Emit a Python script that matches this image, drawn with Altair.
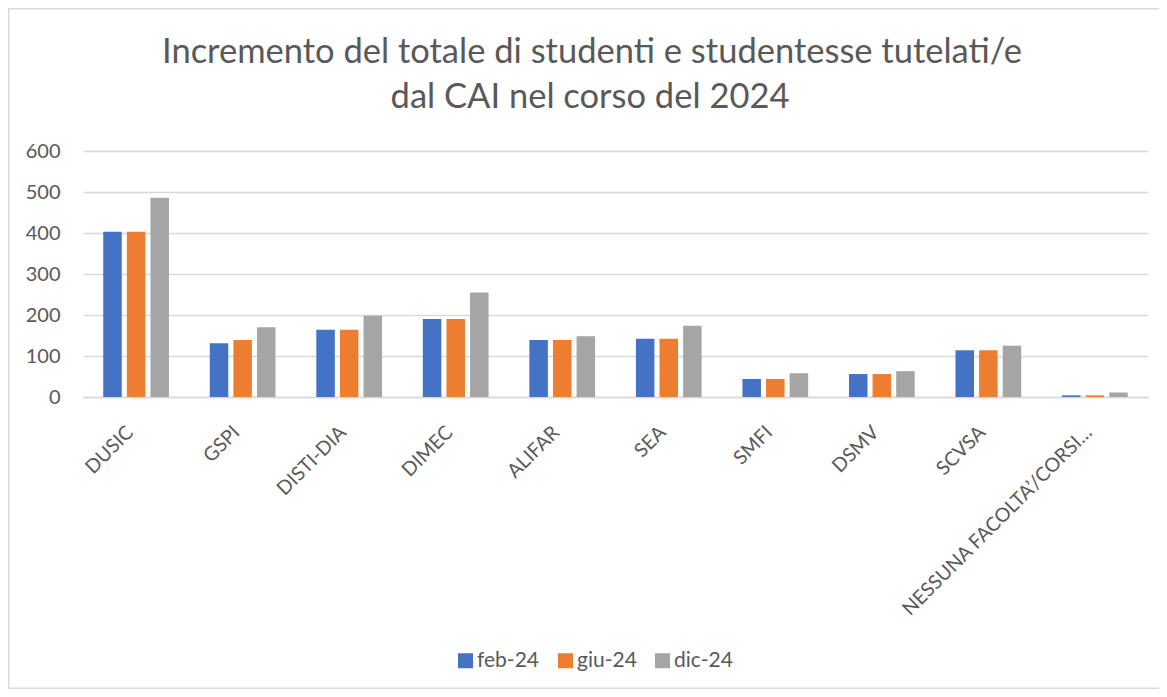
import altair as alt
import pandas as pd

categories = ["DUSIC", "GSPI", "DISTI-DIA", "DIMEC", "ALIFAR", "SEA", "SMFI", "DSMV", "SCVSA", "NESSUNA FACOLTA’/CORSI…"]
series = ["feb-24", "giu-24", "dic-24"]
feb_24 = [403, 131, 164, 190, 139, 142, 44, 56, 114, 4]
giu_24 = [403, 139, 164, 190, 139, 142, 44, 56, 114, 4]
dic_24 = [486, 170, 198, 255, 148, 174, 58, 63, 125, 11]
colors = ["#4472C4", "#ED7D31", "#A5A5A5"]
title_lines = ["Incremento del totale di studenti e studentesse tutelati/e", "dal CAI nel corso del 2024"]

rows = []
for s, vals in zip(series, [feb_24, giu_24, dic_24]):
    for c, v in zip(categories, vals):
        rows.append({"categoria": c, "periodo": s, "valore": v})
df = pd.DataFrame(rows)

FONT = "Lato"
TXT = "#595959"
W, H = 1065, 246

bars = alt.Chart(df).mark_bar().encode(
    x=alt.X("categoria:N", sort=categories, title=None,
            scale=alt.Scale(paddingInner=0.383, paddingOuter=0.19),
            axis=alt.Axis(labelAngle=-45, labelAlign="right", labelBaseline="middle",
                          labelFontSize=19.5, labelColor=TXT, labelFont=FONT,
                          ticks=False, domain=True, domainColor="#D9D9D9", domainWidth=1.3,
                          labelPadding=32, labelOffset=-6, labelLimit=400, labelOverlap=False)),
    xOffset=alt.XOffset("periodo:N", sort=series,
                        scale=alt.Scale(paddingInner=0.216, paddingOuter=0)),
    y=alt.Y("valore:Q", title=None,
            scale=alt.Scale(domain=[0, 600], nice=False),
            axis=alt.Axis(values=[0, 100, 200, 300, 400, 500, 600], domain=False, ticks=False,
                          labelFontSize=20, labelColor=TXT, labelFont=FONT, labelPadding=23,
                          gridColor="#D9D9D9", gridWidth=1.3)),
    color=alt.Color("periodo:N", sort=series,
                    scale=alt.Scale(domain=series, range=colors),
                    legend=alt.Legend(title=None, orient="none", direction="horizontal",
                                      legendX=372, legendY=499,
                                      symbolType="square", symbolSize=225, symbolStrokeWidth=0,
                                      labelFontSize=21, labelColor=TXT, labelFont=FONT,
                                      columnPadding=15, labelOffset=1)),
)

border = alt.Chart(alt.Data(values=[{}])).mark_rect(
    fill=None, stroke="#D9D9D9", strokeWidth=1.5, clip=False
).encode(
    x=alt.value(-74.2), x2=alt.value(1090),
    y=alt.value(-142.2), y2=alt.value(537.2),
)

title1 = alt.Chart(alt.Data(values=[{}])).mark_text(
    text=title_lines[0], font=FONT, fontSize=34.5, color=TXT, align="center", baseline="alphabetic"
).encode(x=alt.value(509), y=alt.value(-88))

title2 = alt.Chart(alt.Data(values=[{}])).mark_text(
    text=title_lines[1], font=FONT, fontSize=34.5, color=TXT, align="center", baseline="alphabetic"
).encode(x=alt.value(507), y=alt.value(-43))

chart = alt.layer(border, bars, title1, title2).properties(
    width=W, height=H,
    padding={"left": 75, "top": 143, "right": 11, "bottom": 292},
    autosize=alt.AutoSizeParams(type="none"),
).configure_view(stroke=None)

chart.save("out.html", embed_options={"renderer": "svg", "actions": False})
